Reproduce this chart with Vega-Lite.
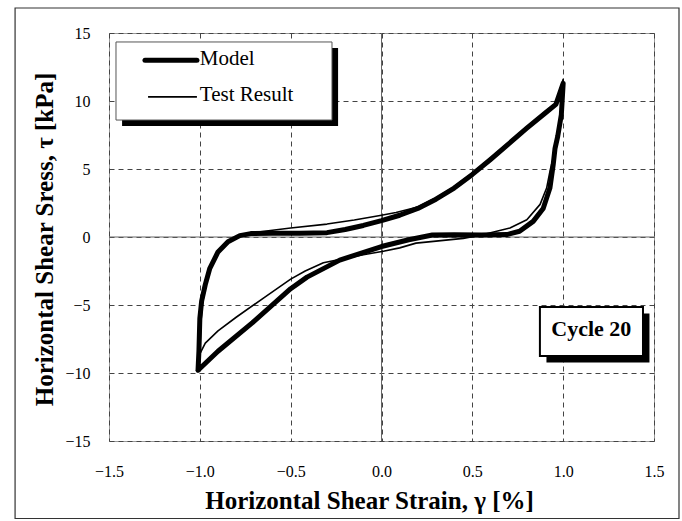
{
  "$schema": "https://vega.github.io/schema/vega-lite/v6.json",
  "width": 545,
  "height": 408,
  "autosize": {"type": "none"},
  "padding": {"left": 109, "top": 33, "right": 28, "bottom": 80},
  "background": "white",
  "config": {
    "view": {"stroke": "#999", "strokeWidth": 1},
    "font": "Liberation Serif"
  },
  "datasets": {
    "curves": [
      {"s": "Model", "i": 1, "x": -1.01, "y": -9.8},
      {"s": "Model", "i": 2, "x": -1.005, "y": -8.4},
      {"s": "Model", "i": 3, "x": -1.0, "y": -6.0},
      {"s": "Model", "i": 4, "x": -0.99, "y": -4.7},
      {"s": "Model", "i": 5, "x": -0.97, "y": -3.5},
      {"s": "Model", "i": 6, "x": -0.945, "y": -2.3},
      {"s": "Model", "i": 7, "x": -0.9, "y": -1.1},
      {"s": "Model", "i": 8, "x": -0.845, "y": -0.35},
      {"s": "Model", "i": 9, "x": -0.78, "y": 0.1},
      {"s": "Model", "i": 10, "x": -0.72, "y": 0.25},
      {"s": "Model", "i": 11, "x": -0.6, "y": 0.27},
      {"s": "Model", "i": 12, "x": -0.45, "y": 0.28},
      {"s": "Model", "i": 13, "x": -0.3, "y": 0.32},
      {"s": "Model", "i": 14, "x": -0.2, "y": 0.55},
      {"s": "Model", "i": 15, "x": -0.1, "y": 0.85},
      {"s": "Model", "i": 16, "x": 0.0, "y": 1.2},
      {"s": "Model", "i": 17, "x": 0.1, "y": 1.6},
      {"s": "Model", "i": 18, "x": 0.2, "y": 2.1},
      {"s": "Model", "i": 19, "x": 0.3, "y": 2.78},
      {"s": "Model", "i": 20, "x": 0.4, "y": 3.6},
      {"s": "Model", "i": 21, "x": 0.5, "y": 4.6},
      {"s": "Model", "i": 22, "x": 0.6, "y": 5.7},
      {"s": "Model", "i": 23, "x": 0.7, "y": 6.85},
      {"s": "Model", "i": 24, "x": 0.8, "y": 8.0},
      {"s": "Model", "i": 25, "x": 0.9, "y": 9.1},
      {"s": "Model", "i": 26, "x": 0.96, "y": 9.75},
      {"s": "Model", "i": 27, "x": 1.0, "y": 11.3},
      {"s": "Model", "i": 28, "x": 0.99, "y": 9.0},
      {"s": "Model", "i": 29, "x": 0.97, "y": 7.4},
      {"s": "Model", "i": 30, "x": 0.955, "y": 6.5},
      {"s": "Model", "i": 31, "x": 0.945, "y": 5.3},
      {"s": "Model", "i": 32, "x": 0.927, "y": 3.6},
      {"s": "Model", "i": 33, "x": 0.89, "y": 2.1},
      {"s": "Model", "i": 34, "x": 0.835, "y": 1.15},
      {"s": "Model", "i": 35, "x": 0.76, "y": 0.42},
      {"s": "Model", "i": 36, "x": 0.69, "y": 0.18},
      {"s": "Model", "i": 37, "x": 0.55, "y": 0.15},
      {"s": "Model", "i": 38, "x": 0.4, "y": 0.17},
      {"s": "Model", "i": 39, "x": 0.28, "y": 0.15},
      {"s": "Model", "i": 40, "x": 0.15, "y": -0.2},
      {"s": "Model", "i": 41, "x": 0.0, "y": -0.7},
      {"s": "Model", "i": 42, "x": -0.23, "y": -1.7},
      {"s": "Model", "i": 43, "x": -0.41, "y": -2.95},
      {"s": "Model", "i": 44, "x": -0.5, "y": -3.8},
      {"s": "Model", "i": 45, "x": -0.71, "y": -6.3},
      {"s": "Model", "i": 46, "x": -0.9, "y": -8.4},
      {"s": "Model", "i": 47, "x": -1.01, "y": -9.8},
      {"s": "Test Result", "i": 1, "x": -1.0, "y": -8.6},
      {"s": "Test Result", "i": 2, "x": -0.995, "y": -6.5},
      {"s": "Test Result", "i": 3, "x": -0.985, "y": -4.8},
      {"s": "Test Result", "i": 4, "x": -0.965, "y": -3.4},
      {"s": "Test Result", "i": 5, "x": -0.94, "y": -2.2},
      {"s": "Test Result", "i": 6, "x": -0.9, "y": -1.0},
      {"s": "Test Result", "i": 7, "x": -0.84, "y": -0.3},
      {"s": "Test Result", "i": 8, "x": -0.77, "y": 0.15},
      {"s": "Test Result", "i": 9, "x": -0.72, "y": 0.3},
      {"s": "Test Result", "i": 10, "x": -0.6, "y": 0.5},
      {"s": "Test Result", "i": 11, "x": -0.5, "y": 0.66},
      {"s": "Test Result", "i": 12, "x": -0.3, "y": 0.95},
      {"s": "Test Result", "i": 13, "x": -0.15, "y": 1.25},
      {"s": "Test Result", "i": 14, "x": 0.0, "y": 1.6},
      {"s": "Test Result", "i": 15, "x": 0.08, "y": 1.8},
      {"s": "Test Result", "i": 16, "x": 0.2, "y": 2.2},
      {"s": "Test Result", "i": 17, "x": 0.3, "y": 2.88},
      {"s": "Test Result", "i": 18, "x": 0.4, "y": 3.7},
      {"s": "Test Result", "i": 19, "x": 0.5, "y": 4.7},
      {"s": "Test Result", "i": 20, "x": 0.6, "y": 5.8},
      {"s": "Test Result", "i": 21, "x": 0.7, "y": 6.95},
      {"s": "Test Result", "i": 22, "x": 0.8, "y": 8.1},
      {"s": "Test Result", "i": 23, "x": 0.9, "y": 9.2},
      {"s": "Test Result", "i": 24, "x": 0.96, "y": 9.85},
      {"s": "Test Result", "i": 25, "x": 1.0, "y": 11.6},
      {"s": "Test Result", "i": 26, "x": 0.985, "y": 8.6},
      {"s": "Test Result", "i": 27, "x": 0.96, "y": 6.5},
      {"s": "Test Result", "i": 28, "x": 0.93, "y": 5.0},
      {"s": "Test Result", "i": 29, "x": 0.909, "y": 3.6},
      {"s": "Test Result", "i": 30, "x": 0.873, "y": 2.4},
      {"s": "Test Result", "i": 31, "x": 0.8, "y": 1.27},
      {"s": "Test Result", "i": 32, "x": 0.707, "y": 0.66},
      {"s": "Test Result", "i": 33, "x": 0.634, "y": 0.42},
      {"s": "Test Result", "i": 34, "x": 0.55, "y": 0.15},
      {"s": "Test Result", "i": 35, "x": 0.45, "y": -0.1},
      {"s": "Test Result", "i": 36, "x": 0.3, "y": -0.3},
      {"s": "Test Result", "i": 37, "x": 0.19, "y": -0.45},
      {"s": "Test Result", "i": 38, "x": 0.1, "y": -0.8},
      {"s": "Test Result", "i": 39, "x": 0.01, "y": -1.05},
      {"s": "Test Result", "i": 40, "x": -0.1, "y": -1.3},
      {"s": "Test Result", "i": 41, "x": -0.32, "y": -1.9},
      {"s": "Test Result", "i": 42, "x": -0.42, "y": -2.5},
      {"s": "Test Result", "i": 43, "x": -0.5, "y": -3.1},
      {"s": "Test Result", "i": 44, "x": -0.64, "y": -4.4},
      {"s": "Test Result", "i": 45, "x": -0.8, "y": -5.9},
      {"s": "Test Result", "i": 46, "x": -0.9, "y": -6.9},
      {"s": "Test Result", "i": 47, "x": -0.97, "y": -7.8},
      {"s": "Test Result", "i": 48, "x": -1.0, "y": -8.6}
    ]
  },
  "encoding": {
    "x": {
      "field": "x", "type": "quantitative",
      "scale": {"domain": [-1.5, 1.5], "nice": false, "zero": false},
      "axis": {
        "title": "Horizontal Shear Strain, γ  [%]",
        "values": [-1.5, -1.0, -0.5, 0.0, 0.5, 1.0, 1.5],
        "format": ".1f",
        "grid": true, "gridDash": [5, 4], "gridColor": "#444", "gridWidth": 1,
        "ticks": false, "domain": false,
        "labelFont": "Liberation Serif", "labelFontSize": 16, "labelColor": "#000",
        "labelPadding": 22, "labelFlush": false,
        "titleFont": "Liberation Serif", "titleFontSize": 25, "titleFontWeight": "bold", "titleColor": "#000",
        "titleX": 260, "titleY": 59, "titleBaseline": "middle", "titleAnchor": "middle", "titleAlign": "center"
      }
    },
    "y": {
      "field": "y", "type": "quantitative",
      "scale": {"domain": [-15, 15], "nice": false, "zero": false},
      "axis": {
        "title": "Horizontal Shear Sress,  τ  [kPa]",
        "values": [-15, -10, -5, 0, 5, 10, 15],
        "grid": true, "gridDash": [5, 4], "gridColor": "#444", "gridWidth": 1,
        "ticks": false, "domain": false,
        "labelFont": "Liberation Serif", "labelFontSize": 16, "labelColor": "#000",
        "labelPadding": 19, "labelFlush": false,
        "titleFont": "Liberation Serif", "titleFontSize": 25, "titleFontWeight": "bold", "titleColor": "#000",
        "titleX": -65, "titleY": 206, "titleBaseline": "middle", "titleAlign": "center", "titleAngle": -90
      }
    }
  },
  "layer": [
    {
      "data": {"values": [
        {"x": 0, "y": -15, "x2": 0, "y2": 15},
        {"x": -1.5, "y": 0, "x2": 1.5, "y2": 0}
      ]},
      "mark": {"type": "rule", "color": "#666", "strokeWidth": 1},
      "encoding": {"x2": {"field": "x2"}, "y2": {"field": "y2"}}
    },
    {
      "data": {"name": "curves"},
      "transform": [{"filter": "datum.s === 'Model'"}],
      "mark": {"type": "line", "color": "#000", "strokeWidth": 5, "strokeJoin": "round", "strokeCap": "round"},
      "encoding": {"order": {"field": "i", "type": "quantitative"}}
    },
    {
      "data": {"name": "curves"},
      "transform": [{"filter": "datum.s === 'Test Result'"}],
      "mark": {"type": "line", "color": "#000", "strokeWidth": 1.6, "strokeJoin": "round"},
      "encoding": {"order": {"field": "i", "type": "quantitative"}}
    },
    {
      "data": {"values": [
        {"x": -1.428, "y": 13.9, "x2": -0.239, "y2": 8.16},
        {"x": 0.908, "y": -5.63, "x2": 1.475, "y2": -9.23}
      ]},
      "mark": {"type": "rect", "color": "#000", "clip": false},
      "encoding": {"x2": {"field": "x2"}, "y2": {"field": "y2"}}
    },
    {
      "data": {"values": [
        {"x": -1.4615, "y": 14.34, "x2": -0.2725, "y2": 8.6}
      ]},
      "mark": {"type": "rect", "fill": "#fff", "stroke": "#555", "strokeWidth": 1, "clip": false},
      "encoding": {"x2": {"field": "x2"}, "y2": {"field": "y2"}}
    },
    {
      "data": {"values": [
        {"x": 0.872, "y": -5.147, "x2": 1.4394, "y2": -8.75}
      ]},
      "mark": {"type": "rect", "fill": "#fff", "stroke": "#000", "strokeWidth": 2, "clip": false},
      "encoding": {"x2": {"field": "x2"}, "y2": {"field": "y2"}}
    },
    {
      "data": {"values": [{"x": -1.302, "x2": -1.016, "y": 13.0}]},
      "mark": {"type": "rule", "color": "#000", "strokeWidth": 5, "strokeCap": "round"},
      "encoding": {"x2": {"field": "x2"}}
    },
    {
      "data": {"values": [{"x": -1.285, "x2": -1.016, "y": 10.3}]},
      "mark": {"type": "rule", "color": "#000", "strokeWidth": 1.6},
      "encoding": {"x2": {"field": "x2"}}
    },
    {
      "data": {"values": [
        {"x": -1.0, "y": 12.67, "t": "Model"},
        {"x": -1.0, "y": 10.0, "t": "Test Result"}
      ]},
      "mark": {"type": "text", "align": "left", "baseline": "alphabetic", "font": "Liberation Serif", "fontSize": 21, "color": "#000"},
      "encoding": {"text": {"field": "t"}}
    },
    {
      "data": {"values": [{"x": 1.155, "y": -7.3, "t": "Cycle 20"}]},
      "mark": {"type": "text", "align": "center", "baseline": "alphabetic", "font": "Liberation Serif", "fontSize": 22, "fontWeight": "bold", "color": "#000"},
      "encoding": {"text": {"field": "t"}}
    },
    {
      "data": {"values": [{"x": -2.017, "y": 16.84, "x2": 1.6376, "y2": -20.7}]},
      "mark": {"type": "rect", "fill": null, "fillOpacity": 0, "stroke": "#333", "strokeWidth": 1.2, "clip": false},
      "encoding": {"x2": {"field": "x2"}, "y2": {"field": "y2"}}
    }
  ]
}
